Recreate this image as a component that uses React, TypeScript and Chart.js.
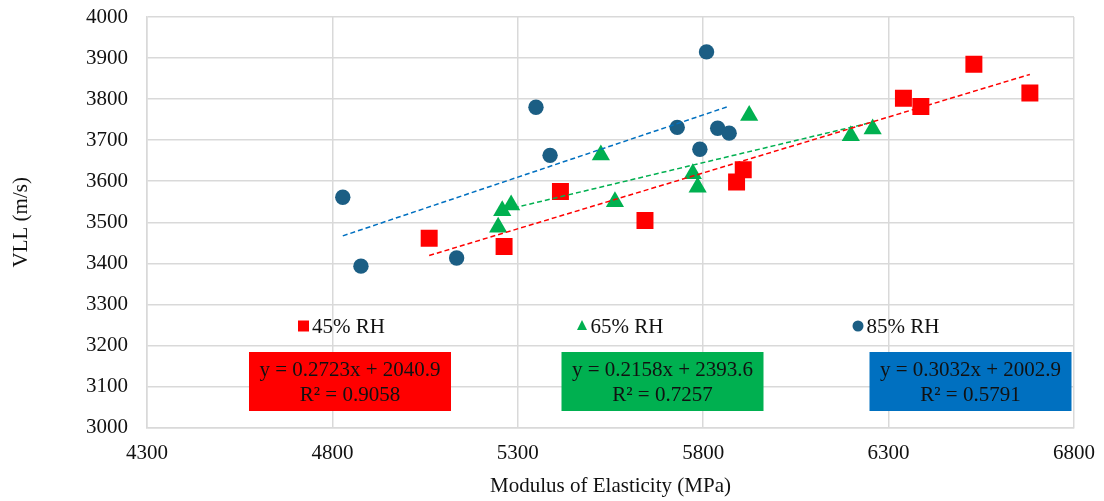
import { useEffect, useRef } from "react";
import { Chart, registerables } from "chart.js";

Chart.register(...registerables);

const FONT = "'Liberation Serif', 'Times New Roman', serif";

// ---- data ----
const seriesLabels = ["45% RH", "65% RH", "85% RH"];

const rh45X = [5061, 5263, 5415, 5643, 5890, 5908, 6340, 6387, 6530, 6681];
const rh45Y = [3461, 3441, 3575, 3504, 3598, 3628, 3802, 3782, 3885, 3815];

const rh65X = [5247, 5258, 5282, 5524, 5562, 5772, 5785, 5924, 6198, 6257];
const rh65Y = [3488, 3528, 3542, 3664, 3550, 3618, 3585, 3760, 3711, 3727];

const rh85X = [4828, 4877, 5135, 5349, 5387, 5730, 5791, 5809, 5839, 5870];
const rh85Y = [3561, 3393, 3413, 3780, 3663, 3731, 3678, 3915, 3729, 3717];

const slopes = [0.2723, 0.2158, 0.3032];
const intercepts = [2040.9, 2393.6, 2002.9];
const rSquared = [0.9058, 0.7257, 0.5791];

const xTicks = [4300, 4800, 5300, 5800, 6300, 6800];
const yTicks = [3000, 3100, 3200, 3300, 3400, 3500, 3600, 3700, 3800, 3900, 4000];

const xTitle = "Modulus of Elasticity (MPa)";
const yTitle = "VLL (m/s)";

// ---- styles ----
const markerColors = ["#FF0000", "#00B050", "#1B5E84"];
const trendColors = ["#FF0000", "#00B050", "#0070C0"];
const boxColors = ["#FF0000", "#00B050", "#0070C0"];
const pointStyles = ["rect", "triangle", "circle"];
const pointRadii = [12, 10.5, 7.7];
const FS = 21;

// layout constants (pixels)
const legendMarkerX = [303.5, 582, 858];
const legendOffsetFromBottom = 101.5;
const boxCenterX = [350, 662.5, 970.5];
const boxWidth = 202;
const boxHeight = 59;
const boxTopFromBottom = 75.5;

const seriesX = [rh45X, rh65X, rh85X];
const seriesY = [rh45Y, rh65Y, rh85Y];

function toPoints(xs: number[], ys: number[]) {
  return xs.map((x, i) => ({ x, y: ys[i] }));
}

function trendPoints(i: number) {
  const xs = seriesX[i];
  const lo = Math.min(...xs);
  const hi = Math.max(...xs);
  return [lo, hi].map((x) => ({ x, y: slopes[i] * x + intercepts[i] }));
}

const overlayPlugin = {
  id: "overlay",
  afterDraw(chart: any) {
    const { ctx, chartArea } = chart;
    ctx.save();
    // legend
    const ly = chartArea.bottom - legendOffsetFromBottom;
    seriesLabels.forEach((label, i) => {
      const mx = legendMarkerX[i];
      ctx.fillStyle = markerColors[i];
      ctx.beginPath();
      if (pointStyles[i] === "rect") {
        ctx.rect(mx - 5.5, ly - 5.5, 11, 11);
      } else if (pointStyles[i] === "triangle") {
        ctx.moveTo(mx, ly - 6);
        ctx.lineTo(mx + 5, ly + 4);
        ctx.lineTo(mx - 5, ly + 4);
        ctx.closePath();
      } else {
        ctx.arc(mx, ly, 5.5, 0, Math.PI * 2);
      }
      ctx.fill();
      ctx.fillStyle = "#111";
      ctx.font = `${FS}px ${FONT}`;
      ctx.textAlign = "left";
      ctx.textBaseline = "middle";
      ctx.fillText(label, mx + 8.5, ly + 1);
    });
    // equation boxes
    const by = chartArea.bottom - boxTopFromBottom;
    slopes.forEach((s, i) => {
      const cx = boxCenterX[i];
      ctx.fillStyle = boxColors[i];
      ctx.fillRect(cx - boxWidth / 2, by, boxWidth, boxHeight);
      ctx.fillStyle = "#111";
      ctx.font = `${FS}px ${FONT}`;
      ctx.textAlign = "center";
      ctx.textBaseline = "middle";
      ctx.fillText(`y = ${s.toFixed(4)}x + ${intercepts[i].toFixed(1)}`, cx, by + 18.5);
      ctx.fillText(`R² = ${rSquared[i].toFixed(4)}`, cx, by + 43);
    });
    ctx.restore();
  },
};

export default function App() {
  const ref = useRef<HTMLCanvasElement | null>(null);

  useEffect(() => {
    document.body.style.margin = "0";
    if (!ref.current) return;
    const scatterSets = seriesLabels.map((label, i) => ({
      type: "scatter" as const,
      label,
      data: toPoints(seriesX[i], seriesY[i]),
      backgroundColor: markerColors[i],
      borderColor: markerColors[i],
      borderWidth: 0,
      pointStyle: pointStyles[i],
      pointRadius: pointRadii[i],
      order: 1,
    }));
    const trendSets = seriesLabels.map((label, i) => ({
      type: "scatter" as const,
      label: `Linear (${label})`,
      data: trendPoints(i),
      showLine: true,
      borderColor: trendColors[i],
      borderWidth: 1.5,
      borderDash: [5, 3],
      pointRadius: 0,
      fill: false,
      order: 0,
    }));

    const chart = new Chart(ref.current, {
      type: "scatter",
      data: { datasets: [...scatterSets, ...trendSets] as any },
      options: {
        animation: false,
        responsive: false,
        layout: { padding: { left: 0, right: 30, top: 17, bottom: 2 } },
        plugins: { legend: { display: false }, tooltip: { enabled: false } },
        scales: {
          x: {
            type: "linear",
            min: xTicks[0],
            max: xTicks[xTicks.length - 1],
            afterBuildTicks: (scale: any) => {
              scale.ticks = xTicks.map((v) => ({ value: v }));
            },
            afterFit: (scale: any) => {
              scale.height = 71.5;
              scale.paddingLeft = 0;
              scale.paddingRight = 0;
            },
            grid: { color: "#d9d9d9", lineWidth: 1.5, drawTicks: false },
            border: { color: "#d9d9d9", width: 1.5 },
            ticks: {
              color: "#111",
              font: { family: FONT, size: FS },
              padding: 13,
              callback: (v: any) => String(v),
            },
            title: {
              display: true,
              text: xTitle,
              color: "#111",
              font: { family: FONT, size: FS },
              padding: { top: 0, bottom: 0 },
            },
          },
          y: {
            type: "linear",
            min: yTicks[0],
            max: yTicks[yTicks.length - 1],
            afterBuildTicks: (scale: any) => {
              scale.ticks = yTicks.map((v) => ({ value: v }));
            },
            afterFit: (scale: any) => {
              scale.width = 147;
              scale.paddingTop = 0;
              scale.paddingBottom = 0;
            },
            grid: { color: "#d9d9d9", lineWidth: 1.5, drawTicks: false },
            border: { color: "#d9d9d9", width: 1.5 },
            ticks: {
              color: "#111",
              font: { family: FONT, size: FS },
              padding: 19,
              callback: (v: any) => String(v),
            },
            title: {
              display: true,
              text: yTitle,
              color: "#111",
              font: { family: FONT, size: FS },
              padding: { top: 9, bottom: 0 },
            },
          },
        },
      },
      plugins: [overlayPlugin],
    });
    return () => chart.destroy();
  }, []);

  return (
    <div style={{ width: 1104, height: 501 }}>
      <canvas ref={ref} width={1104} height={501} />
    </div>
  );
}
